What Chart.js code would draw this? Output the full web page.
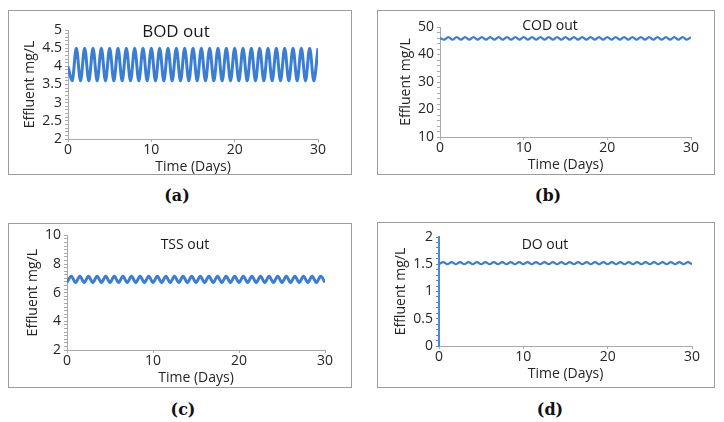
<!DOCTYPE html>
<html>
<head>
<meta charset="utf-8">
<script src="https://cdn.jsdelivr.net/npm/chart.js@4.4.1/dist/chart.umd.min.js"></script>
<style>
  body { margin: 0; background: #fff; width: 724px; height: 422px; position: relative; overflow: hidden; font-family: "Open Sans", sans-serif; }
  .panel { position: absolute; border: 1px solid #9c9c9c; box-sizing: border-box; background: #fff; }
  .panel canvas { position: absolute; left: 0; top: 0; }
  .title { position: absolute; transform: translate(-50%, -50%); color: #1a1a1a; white-space: nowrap; }
  .tag { position: absolute; transform: translate(-50%, -50%); font-family: "DejaVu Serif", serif; font-weight: bold; font-size: 16px; color: #111; }
</style>
</head>
<body>
<div class="panel" id="pa"><canvas id="bodChart"></canvas></div>
<div class="panel" id="pb"><canvas id="codChart"></canvas></div>
<div class="panel" id="pc"><canvas id="tssChart"></canvas></div>
<div class="panel" id="pd"><canvas id="doChart"></canvas></div>

<div class="title" style="left:176px;top:30px;font-size:17px">BOD out</div>
<div class="title" style="left:550px;top:24px;font-size:14px">COD out</div>
<div class="title" style="left:185px;top:243px;font-size:14px">TSS out</div>
<div class="title" style="left:545px;top:243px;font-size:14px">DO out</div>

<div class="tag" style="left:177px;top:195px">(a)</div>
<div class="tag" style="left:548px;top:195px">(b)</div>
<div class="tag" style="left:183px;top:409px">(c)</div>
<div class="tag" style="left:550px;top:409px">(d)</div>

<script>
// time in days, one sample every half day
const times = [
  0, 0.5, 1, 1.5, 2, 2.5, 3, 3.5, 4, 4.5, 5, 5.5, 6, 6.5, 7, 7.5, 8, 8.5, 9, 9.5,
  10, 10.5, 11, 11.5, 12, 12.5, 13, 13.5, 14, 14.5, 15, 15.5, 16, 16.5, 17, 17.5, 18, 18.5, 19, 19.5,
  20, 20.5, 21, 21.5, 22, 22.5, 23, 23.5, 24, 24.5, 25, 25.5, 26, 26.5, 27, 27.5, 28, 28.5, 29, 29.5,
  30,
];

const bodOut = [
  4.0,
  3.6, 4.5, 3.6, 4.5, 3.6, 4.5, 3.6, 4.5, 3.6, 4.5,
  3.6, 4.5, 3.6, 4.5, 3.6, 4.5, 3.6, 4.5, 3.6, 4.5,
  3.6, 4.5, 3.6, 4.5, 3.6, 4.5, 3.6, 4.5, 3.6, 4.5,
  3.6, 4.5, 3.6, 4.5, 3.6, 4.5, 3.6, 4.5, 3.6, 4.5,
  3.6, 4.5, 3.6, 4.5, 3.6, 4.5, 3.6, 4.5, 3.6, 4.5,
  3.6, 4.5, 3.6, 4.5, 3.6, 4.5, 3.6, 4.5, 3.6, 4.5,
];

const codOut = [
  46.0,
  45.4, 46.3, 45.4, 46.3, 45.4, 46.3, 45.4, 46.3, 45.4, 46.3,
  45.4, 46.3, 45.4, 46.3, 45.4, 46.3, 45.4, 46.3, 45.4, 46.3,
  45.4, 46.3, 45.4, 46.3, 45.4, 46.3, 45.4, 46.3, 45.4, 46.3,
  45.4, 46.3, 45.4, 46.3, 45.4, 46.3, 45.4, 46.3, 45.4, 46.3,
  45.4, 46.3, 45.4, 46.3, 45.4, 46.3, 45.4, 46.3, 45.4, 46.3,
  45.4, 46.3, 45.4, 46.3, 45.4, 46.3, 45.4, 46.3, 45.4, 46.3,
];

const tssOut = [
  6.72,
  7.15, 6.72, 7.15, 6.72, 7.15, 6.72, 7.15, 6.72, 7.15, 6.72,
  7.15, 6.72, 7.15, 6.72, 7.15, 6.72, 7.15, 6.72, 7.15, 6.72,
  7.15, 6.72, 7.15, 6.72, 7.15, 6.72, 7.15, 6.72, 7.15, 6.72,
  7.15, 6.72, 7.15, 6.72, 7.15, 6.72, 7.15, 6.72, 7.15, 6.72,
  7.15, 6.72, 7.15, 6.72, 7.15, 6.72, 7.15, 6.72, 7.15, 6.72,
  7.15, 6.72, 7.15, 6.72, 7.15, 6.72, 7.15, 6.72, 7.15, 6.72,
];

const doOut = [
  1.50,
  1.54, 1.50, 1.54, 1.50, 1.54, 1.50, 1.54, 1.50, 1.54, 1.50,
  1.54, 1.50, 1.54, 1.50, 1.54, 1.50, 1.54, 1.50, 1.54, 1.50,
  1.54, 1.50, 1.54, 1.50, 1.54, 1.50, 1.54, 1.50, 1.54, 1.50,
  1.54, 1.50, 1.54, 1.50, 1.54, 1.50, 1.54, 1.50, 1.54, 1.50,
  1.54, 1.50, 1.54, 1.50, 1.54, 1.50, 1.54, 1.50, 1.54, 1.50,
  1.54, 1.50, 1.54, 1.50, 1.54, 1.50, 1.54, 1.50, 1.54, 1.50,
];

const xTicks = [0, 10, 20, 30];

Chart.defaults.font.family = '"Open Sans", sans-serif';
Chart.defaults.color = "#262626";

const LINE = "#3a7dd5";
const AXIS = "#aaaaaa";

// panel boxes and wanted plot areas, page pixels
const panels = [
  { box: "pa", canvas: "bodChart", data: bodOut, yMin: 2, yMax: 5, major: 0.5, minor: 0.1, width: 3,
    rect: [8, 10, 344, 165], area: [68, 30, 318, 139], yAxis: AXIS },
  { box: "pb", canvas: "codChart", data: codOut, yMin: 10, yMax: 50, major: 10, minor: 2, width: 2.2,
    rect: [377, 10, 338, 165], area: [440, 27, 691, 137], yAxis: AXIS },
  { box: "pc", canvas: "tssChart", data: tssOut, yMin: 2, yMax: 10, major: 2, minor: 0.25, width: 3,
    rect: [8, 223, 344, 165], area: [67, 230, 325, 350], yAxis: AXIS },
  { box: "pd", canvas: "doChart", data: doOut, yMin: 0, yMax: 2, major: 0.5, minor: 0.1, width: 2.2,
    rect: [377, 222, 338, 166], area: [439, 237, 692, 346], yAxis: "#4a8ad8" },
];

function isMajor(v, step) {
  const k = v / step;
  return Math.abs(k - Math.round(k)) < 1e-6;
}

function makeChart(p) {
  const box = document.getElementById(p.box);
  const [bx, by, bw, bh] = p.rect;
  box.style.left = bx + "px";
  box.style.top = by + "px";
  box.style.width = bw + "px";
  box.style.height = bh + "px";

  const canvas = document.getElementById(p.canvas);
  canvas.width = bw - 2;
  canvas.height = bh - 2;

  const chart = new Chart(canvas, {
    type: "line",
    data: {
      datasets: [
        {
          data: times.map((t, i) => ({ x: t, y: p.data[i] })),
          borderColor: LINE,
          borderWidth: p.width,
          pointRadius: 0,
          cubicInterpolationMode: "monotone",
          fill: false,
        },
      ],
    },
    options: {
      responsive: false,
      animation: false,
      events: [],
      layout: { padding: { left: 10, right: 20, top: 15, bottom: 4 } },
      plugins: { legend: { display: false }, tooltip: { enabled: false } },
      scales: {
        x: {
          type: "linear",
          min: 0,
          max: 30,
          afterBuildTicks: (scale) => {
            scale.ticks = xTicks.map((v) => ({ value: v }));
          },
          ticks: { font: { size: 14 }, padding: 0, maxRotation: 0 },
          grid: { drawOnChartArea: false, tickLength: 3, color: AXIS },
          border: { color: AXIS },
          title: { display: true, text: "Time (Days)", font: { size: 14 }, padding: 0 },
        },
        y: {
          min: p.yMin,
          max: p.yMax,
          ticks: {
            stepSize: p.minor,
            autoSkip: false,
            font: { size: 14 },
            padding: 3,
            callback: (v) => (isMajor(v, p.major) ? String(v) : ""),
          },
          grid: { drawOnChartArea: false, tickLength: 3, color: p.yAxis },
          border: { color: p.yAxis, width: p.yAxis === AXIS ? 1 : 2 },
          title: { display: true, text: "Effluent mg/L", font: { size: 14 }, padding: 1 },
        },
      },
    },
  });

  // nudge the padding so the plot area lands where the reference has it
  const want = {
    l: p.area[0] - bx - 1,
    t: p.area[1] - by - 1,
    r: p.area[2] - bx - 1,
    b: p.area[3] - by - 1,
  };
  for (let pass = 0; pass < 3; pass++) {
    const a = chart.chartArea;
    const pad = chart.options.layout.padding;
    pad.left += want.l - a.left;
    pad.top += want.t - a.top;
    pad.right += a.right - want.r;
    pad.bottom += a.bottom - want.b;
    chart.update("none");
  }
  return chart;
}

panels.forEach(makeChart);
</script>
</body>
</html>
